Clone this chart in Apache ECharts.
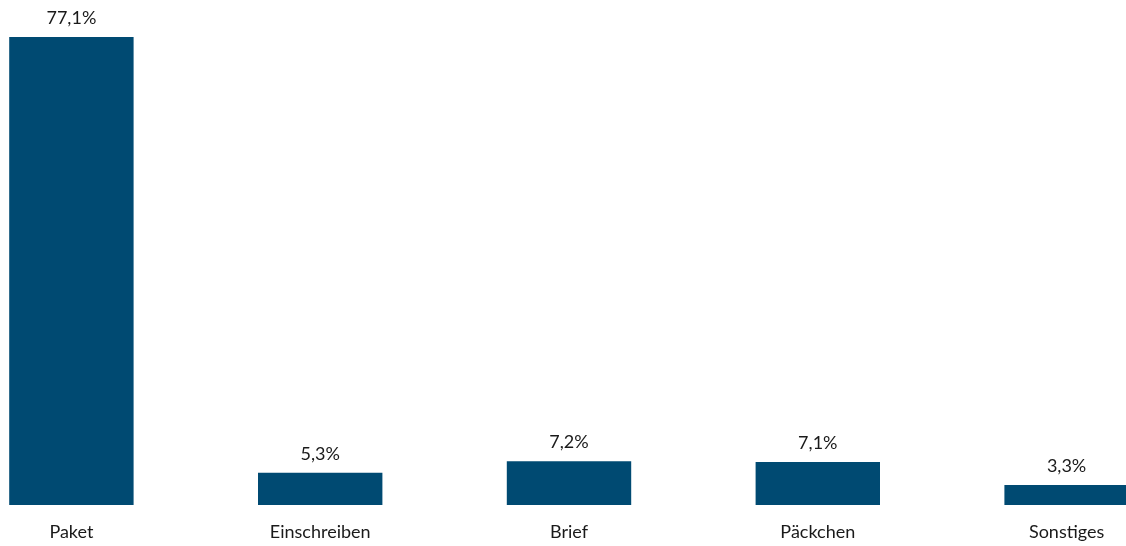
<!DOCTYPE html>
<html>
<head>
<meta charset="utf-8">
<script src="https://cdn.jsdelivr.net/npm/echarts@6/dist/echarts.min.js"></script>
<style>
  html, body { margin: 0; padding: 0; background: #fff; overflow: hidden; }
  .box { position: relative; width: 1126px; height: 546px; overflow: hidden; }
  /* plot runs past the page edges, so the chart box is wider and shifted left */
  #chart { position: absolute; left: -53px; top: 0; width: 1244px; height: 546px; }
</style>
</head>
<body>
<div class="box"><div id="chart"></div></div>
<script>
  const categories = ['Paket', 'Einschreiben', 'Brief', 'Päckchen', 'Sonstiges']
  const shares = [77.1, 5.3, 7.2, 7.1, 3.3]

  const myChart = echarts.init(document.getElementById('chart'))
  const option = {
    animation: false,
    grid: {
      left: 0,
      right: 0,
      top: 19.4,
      bottom: 41,
    },
    xAxis: {
      type: 'category',
      data: categories,
      axisLine: { show: false },
      axisTick: { show: false },
      axisLabel: {
        color: '#1a1a1a',
        fontFamily: 'Lato',
        fontSize: 18,
        margin: 18,
      },
    },
    yAxis: {
      type: 'value',
      min: 0,
      max: 80,
      show: false,
      splitLine: { show: false },
    },
    series: [
      {
        type: 'bar',
        data: shares,
        barWidth: '50%',
        itemStyle: { color: '#004a72' },
        label: {
          show: true,
          position: 'top',
          distance: 10,
          color: '#1a1a1a',
          fontFamily: 'Lato',
          fontSize: 18,
          formatter: p => p.value.toFixed(1).replace('.', ',') + '%',
        },
      },
    ],
  }
  myChart.setOption(option)
</script>
</body>
</html>
